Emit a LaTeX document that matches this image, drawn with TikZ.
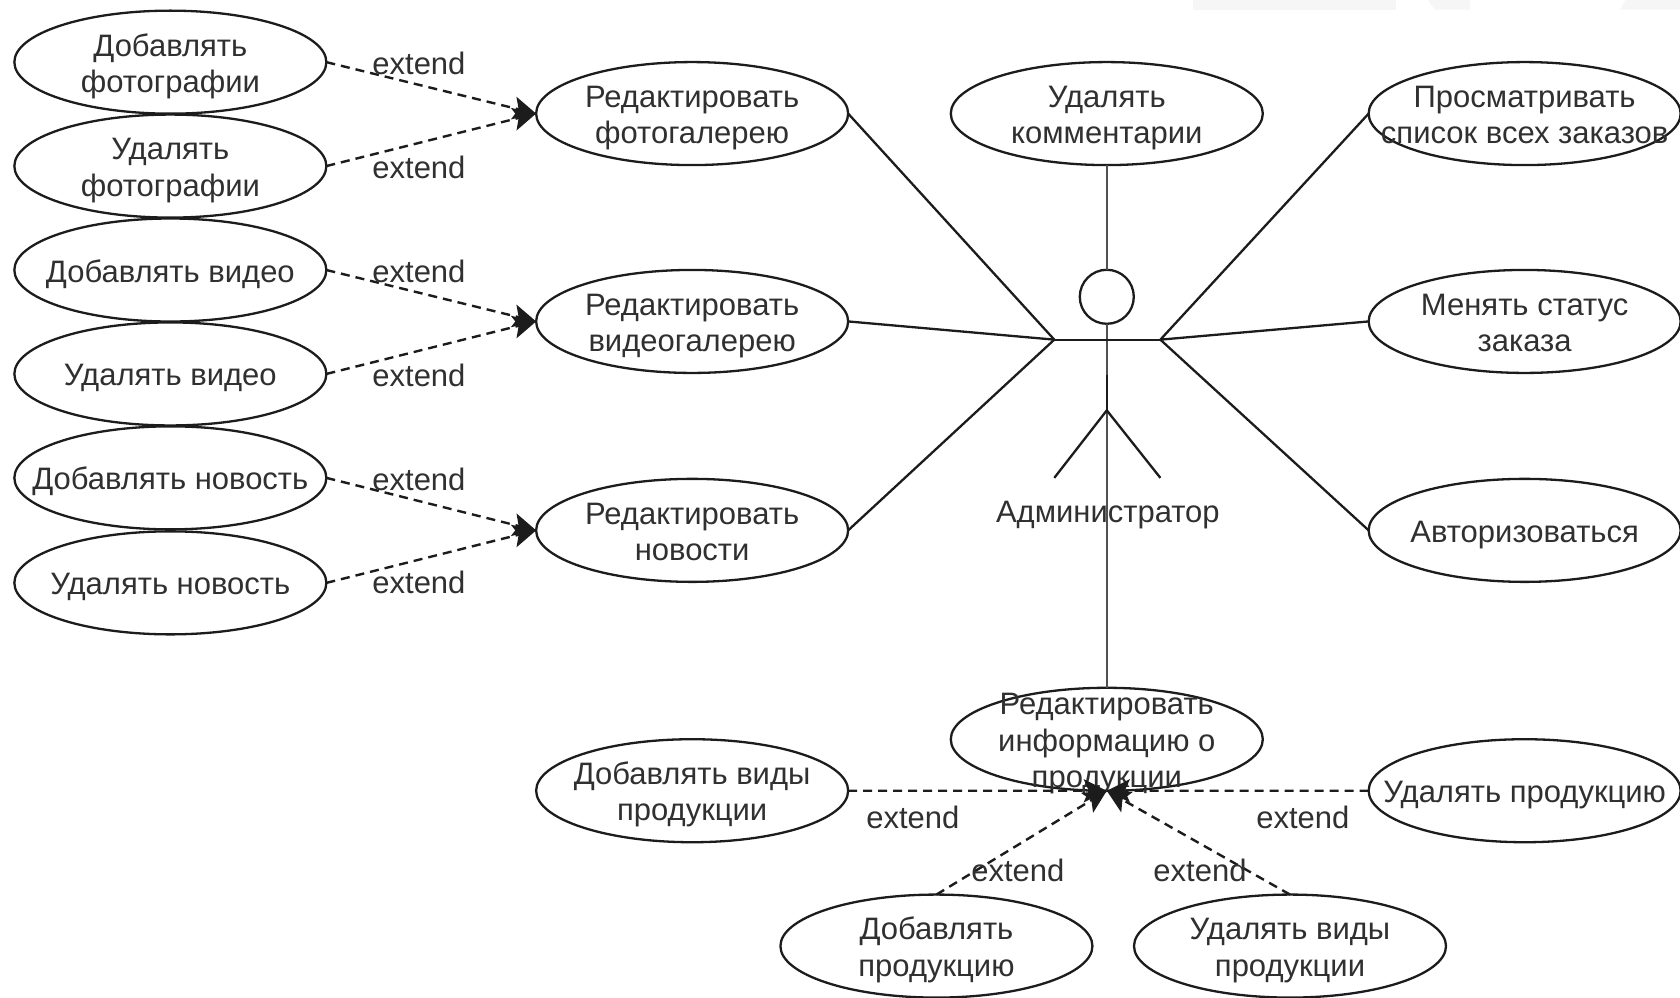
\documentclass[tikz,border=0pt]{standalone}
\usepackage{fontspec}
\setmainfont{Liberation Sans}
\usetikzlibrary{shapes.geometric,arrows.meta}
\definecolor{ink}{HTML}{1C1C1C}
\definecolor{txt}{HTML}{303030}
\definecolor{grayline}{HTML}{505050}
\definecolor{smudge}{HTML}{F6F6F6}
\newcommand{\ut}[1]{\makebox[0pt]{\smash{\raisebox{-11pt}{\begin{tabular}[c]{@{}c@{}}#1\end{tabular}}}}}
\tikzset{
  uc/.style={ellipse,draw=ink,line width=2.3pt,fill=white,minimum width=312pt,minimum height=103pt,inner sep=0pt,outer sep=0pt,text=txt,font=\fontsize{31}{36.4}\selectfont},
  lbl/.style={text=txt,inner sep=0pt,font=\fontsize{31}{36.4}\selectfont},
  assoc/.style={draw=ink,line width=2.3pt},
  assocg/.style={draw=grayline,line width=2.6pt},
  ext/.style={draw=ink,line width=2.4pt,dash pattern=on 9pt off 6pt,-{Stealth[length=23pt,width=23pt,inset=5pt]}},
  limb/.style={draw=ink,line width=2.3pt},
  smudgebar/.style={fill=smudge,draw=none}
}
\begin{document}
\begin{tikzpicture}[x=1.0714pt,y=-1.0714pt]
\useasboundingbox (0,0) rectangle (1568,930.6);
\fill[smudgebar] (1113,0) rectangle (1303,9);
\fill[smudgebar] (1333,0) -- (1372,0) -- (1372,9) -- (1339,9) -- cycle;
\fill[smudgebar] (1517,0) -- (1568,0) -- (1568,9) -- (1512,9) -- cycle;
% actor geometry
\coordinate (armL) at (984,317);
\coordinate (armR) at (1083,317);
\coordinate (hip) at (1033,383);
\coordinate (bodyMid) at (1033,350);
\coordinate (footL) at (984,446);
\coordinate (footR) at (1083,446);
% use cases
\node[uc] (a1) at (159,58) {\ut{Добавлять\\фотографии}};
\node[uc] (a2) at (159,155) {\ut{Удалять\\фотографии}};
\node[uc] (a3) at (159,252) {\ut{Добавлять видео}};
\node[uc] (a4) at (159,349) {\ut{Удалять видео}};
\node[uc] (a5) at (159,446) {\ut{Добавлять новость}};
\node[uc] (a6) at (159,544) {\ut{Удалять новость}};
\node[uc] (m1) at (646,106) {\ut{Редактировать\\фотогалерею}};
\node[uc] (m2) at (646,300) {\ut{Редактировать\\видеогалерею}};
\node[uc] (m3) at (646,495) {\ut{Редактировать\\новости}};
\node[uc] (c1) at (1033,106) {\ut{Удалять\\комментарии}};
\node[uc] (r1) at (1423,106) {\ut{Просматривать\\список всех заказов}};
\node[uc] (r2) at (1423,300) {\ut{Менять статус\\заказа}};
\node[uc] (r3) at (1423,495) {\ut{Авторизоваться}};
\node[uc] (p0) at (1033,690) {\ut{Редактировать\\информацию о\\продукции}};
\node[uc] (p1) at (646,738) {\ut{Добавлять виды\\продукции}};
\node[uc] (p2) at (1423,738) {\ut{Удалять продукцию}};
\node[uc] (p3) at (874,883) {\ut{Добавлять\\продукцию}};
\node[uc] (p4) at (1204,883) {\ut{Удалять виды\\продукции}};
% associations
\draw[assoc] (m1.east) -- (armL);
\draw[assoc] (m2.east) -- (armL);
\draw[assoc] (m3.east) -- (armL);
\draw[assoc] (r1.west) -- (armR);
\draw[assoc] (r2.west) -- (armR);
\draw[assoc] (r3.west) -- (armR);
% actor
\node[circle,draw=ink,line width=2.3pt,minimum size=54pt,inner sep=0pt,outer sep=0pt] (head) at (1033,277) {};
\draw[assocg] (c1.south) -- (head.north);
\draw[assocg] (head.south) -- (p0.north);
\draw[limb] (armL) -- (armR);
\draw[limb] (bodyMid) -- (hip);
\draw[limb] (footL) -- (hip) -- (footR);
% extends
\draw[ext] (a1.east) -- (m1.west);
\draw[ext] (a2.east) -- (m1.west);
\draw[ext] (a3.east) -- (m2.west);
\draw[ext] (a4.east) -- (m2.west);
\draw[ext] (a5.east) -- (m3.west);
\draw[ext] (a6.east) -- (m3.west);
\draw[ext] (p1.east) -- (p0.south);
\draw[ext] (p2.west) -- (p0.south);
\draw[ext] (p3.north) -- (p0.south);
\draw[ext] (p4.north) -- (p0.south);
% labels
\node[lbl] (actorlbl) at (1034,481) {Администратор};
\node[lbl] (e1) at (391,59) {extend};
\node[lbl] (e2) at (391,156) {extend};
\node[lbl] (e3) at (391,253) {extend};
\node[lbl] (e4) at (391,350) {extend};
\node[lbl] (e5) at (391,447) {extend};
\node[lbl] (e6) at (391,544) {extend};
\node[lbl] (e7) at (852,763) {extend};
\node[lbl] (e8) at (1216,763) {extend};
\node[lbl] (e9) at (950,812) {extend};
\node[lbl] (e10) at (1120,812) {extend};
\end{tikzpicture}
\end{document}
